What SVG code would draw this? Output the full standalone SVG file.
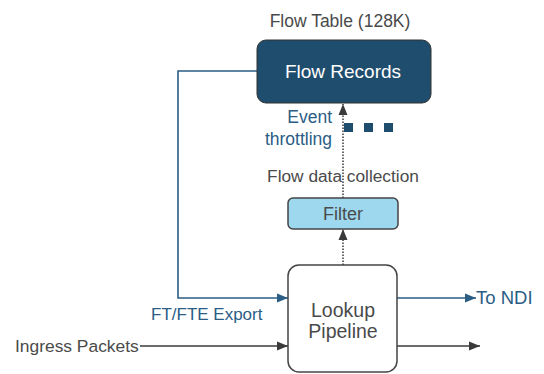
<svg xmlns="http://www.w3.org/2000/svg" width="544" height="374" viewBox="0 0 544 374">
<style>
text{font-family:"Liberation Sans",Arial,sans-serif;}
.gray{fill:#4a4a4a;}
.blue{fill:#2b5d85;}
.ln{fill:none;stroke-width:1.6;}
.dot{fill:none;stroke:#3a3a3a;stroke-width:1.5;stroke-dasharray:1.5 1.5;}
</style>
<defs>
<marker id="ab" markerUnits="userSpaceOnUse" markerWidth="12" markerHeight="10" refX="11" refY="5" orient="auto">
<path d="M0,0.5 L11,5 L0,9.5 Z" fill="#2b5d85"/>
</marker>
<marker id="ak" markerUnits="userSpaceOnUse" markerWidth="12" markerHeight="10" refX="11" refY="5" orient="auto">
<path d="M0,0.5 L11,5 L0,9.5 Z" fill="#3a3a3a"/>
</marker>
</defs>
<rect width="544" height="374" fill="#ffffff"/>
<g id="connectors">
<path class="ln" stroke="#2b5d85" d="M257,71 H178 V298 H288" marker-end="url(#ab)"/>
<path class="ln" stroke="#2b5d85" d="M397,298 H476" marker-end="url(#ab)"/>
<path class="ln" stroke="#3a3a3a" d="M397,346 H480" marker-end="url(#ak)"/>
<path class="ln" stroke="#3a3a3a" d="M140,346 H288" marker-end="url(#ak)"/>
<path class="dot" d="M343,265 V229" marker-end="url(#ak)"/>
<path class="dot" d="M343,198 V104" marker-end="url(#ak)"/>
</g>
<g id="flow-table-label">
<text x="340" y="27" font-size="17.5" text-anchor="middle" class="gray">Flow Table (128K)</text>
</g>
<g id="flow-records">
<rect x="257" y="40" width="174" height="63" rx="9" fill="#1f4d6d" stroke="#333" stroke-width="1"/>
<text x="343" y="78" font-size="19" text-anchor="middle" fill="#ffffff">Flow Records</text>
</g>
<g id="event-throttling">
<text x="332" y="123" font-size="17.5" text-anchor="end" class="blue">Event</text>
<text x="332" y="145" font-size="17.5" text-anchor="end" class="blue">throttling</text>
<rect x="344" y="123" width="9" height="9" fill="#1f4d6d"/>
<rect x="364" y="123" width="9" height="9" fill="#1f4d6d"/>
<rect x="384" y="123" width="9" height="9" fill="#1f4d6d"/>
</g>
<g id="flow-data-collection">
<text x="343" y="182" font-size="17.3" text-anchor="middle" class="gray">Flow data collection</text>
</g>
<g id="filter">
<rect x="288" y="198" width="110" height="31" rx="5" fill="#9dd8ef" stroke="#444" stroke-width="1.5"/>
<text x="343" y="220" font-size="18" text-anchor="middle" class="gray">Filter</text>
</g>
<g id="lookup-pipeline">
<rect x="288" y="265" width="109" height="107" rx="11" fill="#ffffff" stroke="#444" stroke-width="1.5"/>
<text x="343" y="317" font-size="19.5" text-anchor="middle" class="gray">Lookup</text>
<text x="343" y="338" font-size="19.5" text-anchor="middle" class="gray">Pipeline</text>
</g>
<g id="ft-export">
<text x="151" y="320" font-size="17" class="blue">FT/FTE Export</text>
</g>
<g id="to-ndi">
<text x="476" y="304" font-size="18.5" class="blue">To NDI</text>
</g>
<g id="ingress">
<text x="15" y="352" font-size="17.4" class="gray">Ingress Packets</text>
</g>
</svg>
